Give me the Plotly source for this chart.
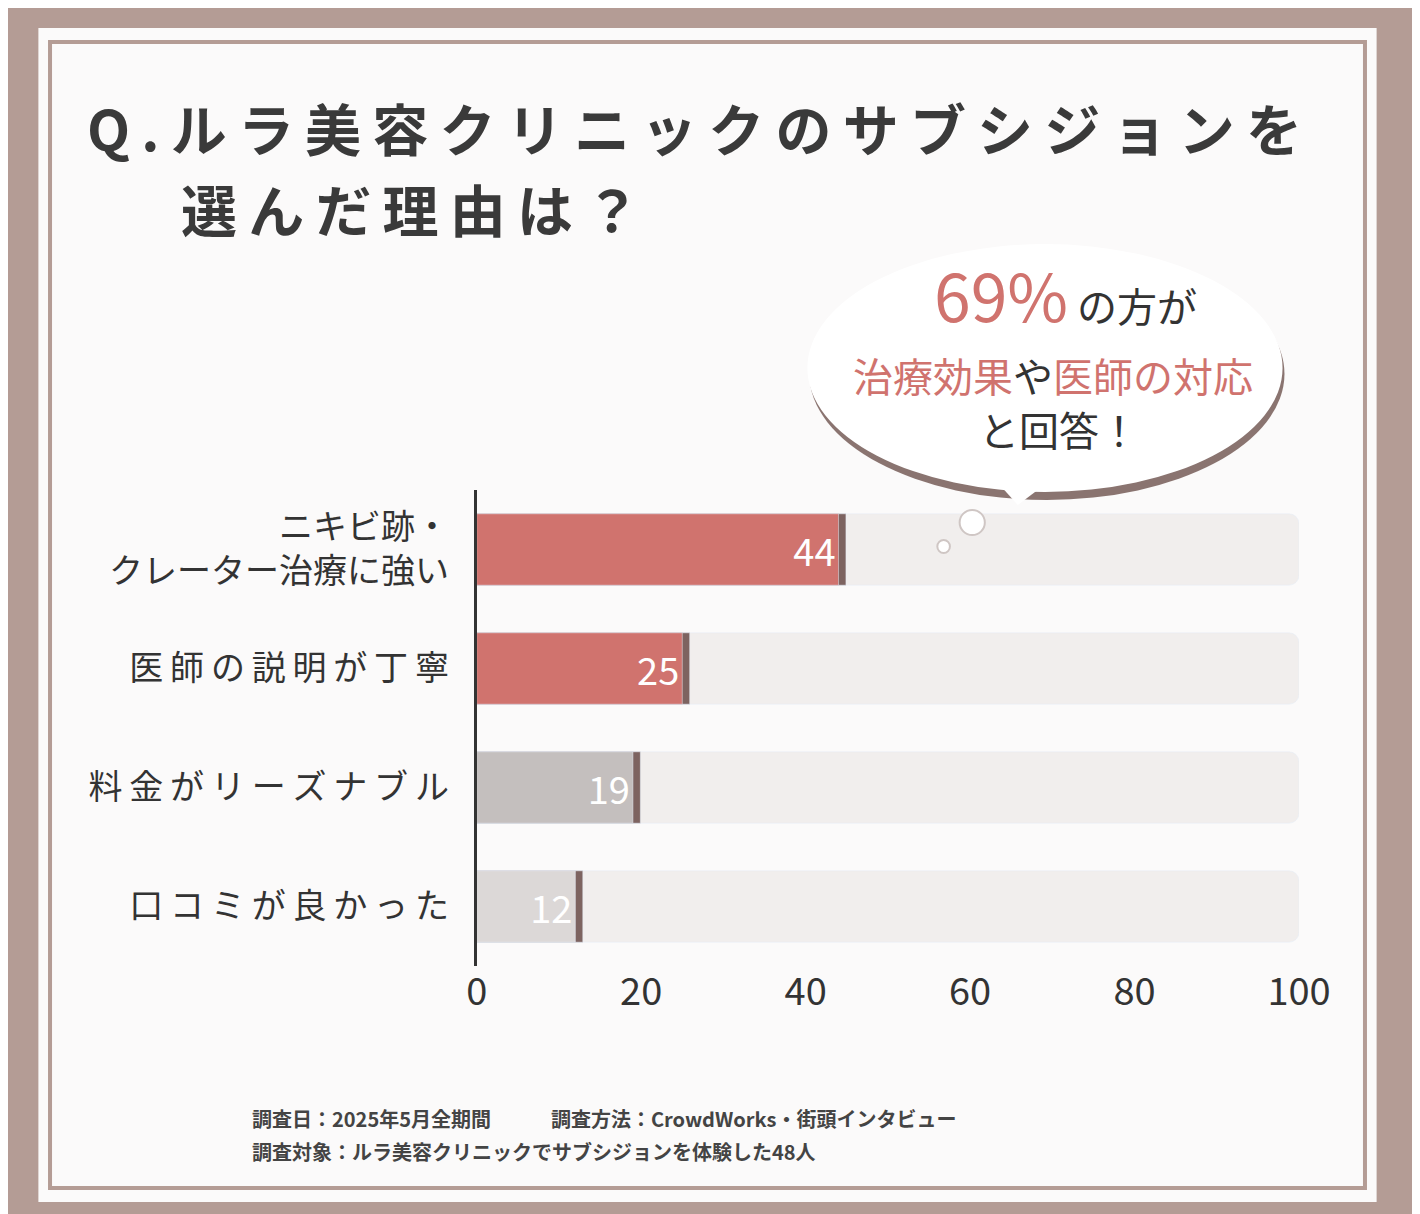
import plotly.graph_objects as go

categories = ["ニキビ跡・<br>クレーター治療に強い", "医師の説明が丁寧", "料金がリーズナブル", "口コミが良かった"]
values = [44, 25, 19, 12]
bar_colors = ["#d0736e", "#d0736e", "#c4bfbe", "#dcd8d7"]
x_ticks = [0, 20, 40, 60, 80, 100]

W, H = 1420, 1214
def px(x): return x / W
def py(y): return 1 - y / H

def spaced(s):
    return "\u2009".join(s)

fig = go.Figure()
# background track bars
fig.add_trace(go.Bar(y=categories, x=[100] * len(categories), orientation="h",
                     marker=dict(color="#f1eeed", cornerradius=10), width=0.6,
                     hoverinfo="skip", showlegend=False))
# shadow edge
fig.add_trace(go.Bar(y=categories, x=[v + 0.9 for v in values], orientation="h",
                     marker=dict(color="#7d6360", cornerradius=10), width=0.6,
                     hoverinfo="skip", showlegend=False))
# value bars
fig.add_trace(go.Bar(y=categories, x=values, orientation="h",
                     marker=dict(color=bar_colors, cornerradius=10), width=0.6,
                     text=[str(v) for v in values], textposition="inside",
                     insidetextanchor="end",
                     textfont=dict(size=38, color="white", family="Noto Sans CJK JP"),
                     showlegend=False))

fig.update_layout(
    width=W, height=H, barmode="overlay",
    margin=dict(l=0, r=0, t=0, b=0),
    paper_bgcolor="#b49c95", plot_bgcolor="rgba(0,0,0,0)",
    font=dict(family="Noto Sans CJK JP", color="#333333"),
    xaxis=dict(domain=[px(472), px(1320)], range=[0, 100], tickvals=x_ticks,
               showgrid=False, zeroline=False, showline=False,
               tickfont=dict(size=38, color="#333333"), ticklen=0, ticks=""),
    yaxis=dict(domain=[py(958), py(482)], autorange="reversed",
               showgrid=False, showline=True, linecolor="#333333", linewidth=3,
               tickvals=categories,
               ticktext=["ニキビ跡・<br>クレーター治療に強い", spaced("医師の説明が丁寧"),
                         spaced("料金がリーズナブル"), spaced("口コミが良かった")],
               tickfont=dict(size=34, color="#333333"), ticks="", ticklabelstandoff=18),
)

shapes = [
    dict(type="rect", xref="paper", yref="paper", x0=px(20), x1=px(1400), y0=py(1194), y1=py(20),
         fillcolor="#fbfafa", line=dict(width=0), layer="below"),
    dict(type="rect", xref="paper", yref="paper", x0=px(32), x1=px(1388), y0=py(1180), y1=py(34),
         fillcolor="rgba(0,0,0,0)", line=dict(color="#b49c95", width=4), layer="below"),
    # speech bubble shadow + body
    dict(type="circle", xref="paper", yref="paper", x0=px(815), x1=px(1305), y0=py(492), y1=py(240),
         fillcolor="#8a7470", line=dict(width=0)),
    dict(type="circle", xref="paper", yref="paper", x0=px(813), x1=px(1303), y0=py(484), y1=py(236),
         fillcolor="white", line=dict(width=0)),
    dict(type="path", xref="paper", yref="paper",
         path=f"M {px(1005)},{py(470)} L {px(1030)},{py(497)} L {px(1060)},{py(475)} Z",
         fillcolor="white", line=dict(width=0)),
    dict(type="circle", xref="paper", yref="paper", x0=px(970), x1=px(996), y0=py(527), y1=py(502),
         fillcolor="white", line=dict(color="#cfc6c4", width=2)),
    dict(type="circle", xref="paper", yref="paper", x0=px(947), x1=px(960), y0=py(545), y1=py(532),
         fillcolor="white", line=dict(color="#cfc6c4", width=2)),
]
fig.update_layout(shapes=shapes)

red = "#d0736e"
title_font = dict(size=56, color="#3a3a3a", family="Noto Sans CJK JP", weight="bold")
ann = [
    dict(x=px(68), y=py(118), text=spaced("Q.ルラ美容クリニックのサブシジョンを"), font=title_font),
    dict(x=px(165), y=py(200), text=spaced("選んだ理由は？"), font=title_font),
    dict(x=px(942), y=py(285), text=f"<span style='color:{red};font-size:66px'>69%</span> の方が",
         font=dict(size=40, color="#333333")),
    dict(x=px(858), y=py(367), text=f"<span style='color:{red}'>治療効果</span>や<span style='color:{red}'>医師の対応</span>",
         font=dict(size=40, color="#333333")),
    dict(x=px(988), y=py(421), text="と回答！", font=dict(size=40, color="#333333")),
    dict(x=px(238), y=py(1110), text="調査日：2025年5月全期間　　　調査方法：CrowdWorks・街頭インタビュー",
         font=dict(size=20, color="#444444", weight="bold")),
    dict(x=px(238), y=py(1143), text="調査対象：ルラ美容クリニックでサブシジョンを体験した48人",
         font=dict(size=20, color="#444444", weight="bold")),
]
for a in ann:
    a.update(xref="paper", yref="paper", xanchor="left", yanchor="middle", showarrow=False)
fig.update_layout(annotations=ann)

fig.write_html("out.html")
